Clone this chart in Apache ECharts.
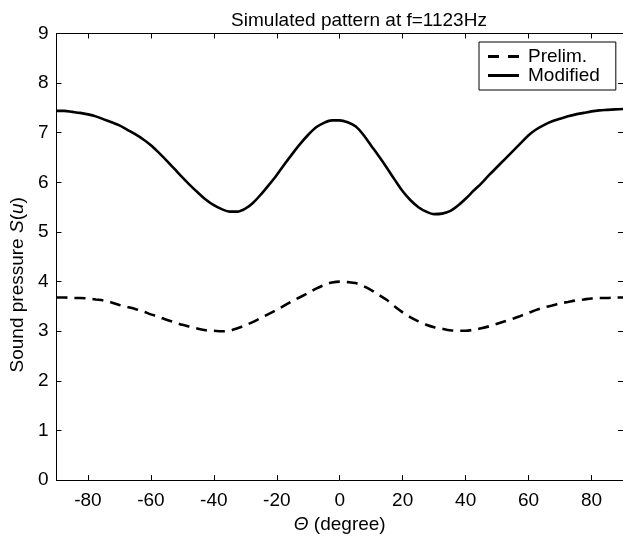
<!DOCTYPE html>
<html>
<head>
<meta charset="utf-8">
<script src="https://cdn.jsdelivr.net/npm/echarts@6/dist/echarts.min.js"></script>
<style>html,body{margin:0;padding:0;background:#fff;}#c{width:623px;height:539px;}</style>
</head>
<body>
<div id="c"></div>
<script>
const theta = [-90,-87.5,-85,-82.5,-80,-77.5,-75,-72.5,-70,-67.5,-65,-62.5,-60,-57.5,-55,-52.5,-50,-47.5,-45,-42.5,-40,-37.5,-35,-32.5,-30,-27.5,-25,-22.5,-20,-17.5,-15,-12.5,-10,-7.5,-5,-2.5,0,2.5,5,7.5,10,12.5,15,17.5,20,22.5,25,27.5,30,32.5,35,37.5,40,42.5,45,47.5,50,52.5,55,57.5,60,62.5,65,67.5,70,72.5,75,77.5,80,82.5,85,87.5,90];
const modified = [7.44,7.44,7.42,7.40,7.37,7.33,7.27,7.21,7.15,7.06,6.97,6.87,6.75,6.60,6.44,6.27,6.10,5.94,5.79,5.65,5.54,5.46,5.41,5.41,5.47,5.59,5.76,5.95,6.15,6.37,6.58,6.78,6.96,7.11,7.20,7.25,7.25,7.21,7.13,6.96,6.74,6.52,6.29,6.05,5.82,5.64,5.50,5.41,5.36,5.37,5.42,5.53,5.67,5.83,5.98,6.15,6.31,6.47,6.63,6.79,6.95,7.07,7.16,7.23,7.28,7.33,7.37,7.40,7.43,7.45,7.46,7.47,7.48];
const prelim = [3.68,3.68,3.67,3.67,3.66,3.64,3.62,3.58,3.53,3.49,3.45,3.40,3.34,3.29,3.23,3.18,3.13,3.09,3.05,3.02,3.01,3.00,3.01,3.06,3.12,3.19,3.27,3.35,3.43,3.52,3.61,3.69,3.77,3.86,3.93,3.98,4.00,3.99,3.97,3.91,3.83,3.73,3.63,3.50,3.38,3.28,3.20,3.13,3.08,3.05,3.02,3.01,3.01,3.03,3.06,3.10,3.15,3.20,3.25,3.31,3.37,3.43,3.48,3.52,3.56,3.59,3.62,3.64,3.66,3.67,3.67,3.68,3.68];
const xTicks = [-80,-60,-40,-20,0,20,40,60,80];
const yTicks = [0,1,2,3,4,5,6,7,8,9];

const FONT = 'Liberation Sans';
const FS = 19;
const chart = echarts.init(document.getElementById('c'));
const axisLine = {show:true, onZero:false, lineStyle:{color:'#000', width:1}};
const tick = {show:true, inside:true, length:5, lineStyle:{color:'#000', width:1}};
function pair(a,b){ return a.map((t,i)=>[t,b[i]]); }
chart.setOption({
  animation:false,
  backgroundColor:'#fff',
  title:{text:'Simulated pattern at f=1123Hz', left:354, top:6, textAlign:'center',
    textStyle:{fontFamily:FONT, fontSize:FS, fontWeight:'normal', color:'#000'}},
  legend:{
    left:479, top:42, orient:'vertical',
    backgroundColor:'#fff', borderColor:'#000', borderWidth:1, borderRadius:0,
    padding:[5,16,5,9], itemWidth:31, itemHeight:14, itemGap:0,
    textStyle:{fontFamily:FONT, fontSize:FS, color:'#000', padding:[0,0,0,4]},
    data:[
      {name:'Prelim.', icon:'path://M0,0H11V3H0Z M20,0H31V3H20Z'},
      {name:'Modified', icon:'path://M0,0H31V3H0Z'}
    ]
  },
  grid:{left:55, top:33.5, width:571.5, height:451.8},
  xAxis:[
    {type:'value', min:-90, max:90, interval:10, position:'bottom',
     axisLine:axisLine, axisTick:{...tick, customValues:xTicks}, splitLine:{show:false},
     axisLabel:{customValues:xTicks, fontFamily:FONT, fontSize:FS, color:'#000', margin:11},
     name:'{i|Θ} (degree)', nameLocation:'middle', nameGap:33,
     nameTextStyle:{fontFamily:FONT, fontSize:FS, color:'#000', rich:{i:{fontFamily:FONT, fontSize:FS, fontStyle:'italic', color:'#000'}}}},
    {type:'value', min:-90, max:90, interval:10, position:'top',
     axisLine:axisLine, axisTick:{...tick, customValues:xTicks}, axisLabel:{show:false}, splitLine:{show:false}}
  ],
  yAxis:[
    {type:'value', min:0, max:9, interval:1, position:'left',
     axisLine:axisLine, axisTick:{...tick, customValues:yTicks}, splitLine:{show:false},
     axisLabel:{customValues:yTicks, fontFamily:FONT, fontSize:FS, color:'#000', margin:8},
     name:'Sound pressure {i|S}({i|u})', nameLocation:'middle', nameGap:29,
     nameTextStyle:{fontFamily:FONT, fontSize:FS, color:'#000', padding:[0,56,0,0], rich:{i:{fontFamily:FONT, fontSize:FS, fontStyle:'italic', color:'#000'}}}},
    {type:'value', min:0, max:9, interval:1, position:'right',
     axisLine:axisLine, axisTick:{...tick, customValues:yTicks}, axisLabel:{show:false}, splitLine:{show:false}}
  ],
  series:[
    {name:'Prelim.', type:'line', data:pair(theta,prelim), symbol:'none', smooth:0.3,
     lineStyle:{color:'#000', width:2.6, type:[11,7]}, itemStyle:{color:'#000'}},
    {name:'Modified', type:'line', data:pair(theta,modified), symbol:'none', smooth:0.3,
     lineStyle:{color:'#000', width:2.6, type:'solid'}, itemStyle:{color:'#000'}}
  ]
});
</script>
</body>
</html>
